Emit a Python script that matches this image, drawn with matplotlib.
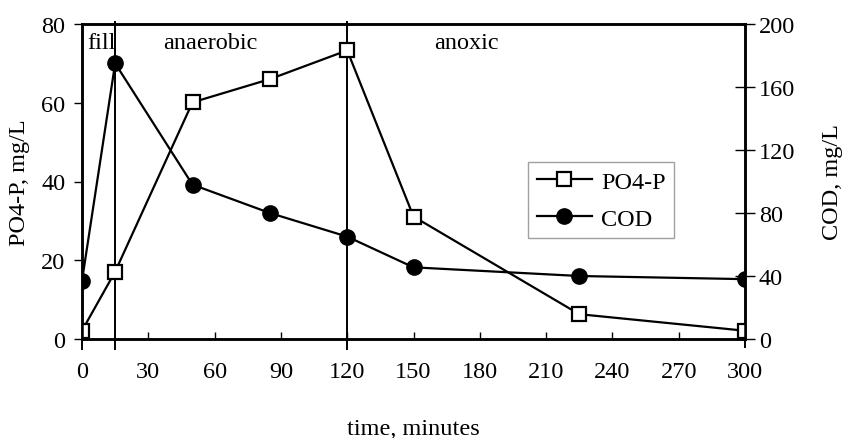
import matplotlib
matplotlib.use("Agg")
import matplotlib.pyplot as plt

time_min = [0, 15, 50, 85, 120, 150, 225, 300]
po4_p = [2.1, 17.1, 60.1, 66.0, 73.3, 31.1, 6.3, 2.1]
cod = [37, 175, 98, 80, 65, 45.5, 40, 38]
phase_lines = [15, 120]
phase_labels = ["fill", "anaerobic", "anoxic"]
phase_label_x = [2.5, 58, 174]
x_ticks = list(range(0, 301, 30))
left_ticks = [0, 20, 40, 60, 80]
right_ticks = [0, 40, 80, 120, 160, 200]

FS = 17.5
plt.rcParams['font.family'] = ['Liberation Serif', 'DejaVu Serif']
plt.rcParams['font.size'] = FS

fig = plt.figure(figsize=(8.46, 4.39), dpi=100)
ax = fig.add_axes([82/846, 1-340/439, (745-82)/846, (340-25)/439])
ax2 = ax.twinx()

ax.set_xlim(0, 300)
ax.set_ylim(0, 80)
ax2.set_ylim(0, 200)

l1, = ax.plot(time_min, po4_p, color='black', lw=1.6, marker='s', ms=10,
              mfc='white', mec='black', mew=1.6, label='PO4-P', zorder=3)
l2, = ax2.plot(time_min, cod, color='black', lw=1.6, marker='o', ms=11,
               mfc='black', mec='black', label='COD', zorder=3)

for xv in phase_lines:
    ax.axvline(xv, ymin=-0.033, ymax=1.007, color='black', lw=1.4, clip_on=False, zorder=2)
ax.axvline(0, ymin=-0.033, ymax=0, color='black', lw=1.4, clip_on=False)
ax.axvline(300, ymin=-0.025, ymax=0, color='black', lw=1.4, clip_on=False)

for lab, xl in zip(phase_labels, phase_label_x):
    ha = 'left' if lab == 'fill' else 'center'
    ax.text(xl, 75.4, lab, ha=ha, va='center', fontsize=FS)

ax.set_xticks(x_ticks)
ax.set_yticks(left_ticks)
ax2.set_yticks(right_ticks)
ax.tick_params(axis='x', direction='in', length=5, width=1, pad=16)
ax.tick_params(axis='y', direction='out', length=6, width=1, pad=6)
ax2.tick_params(axis='y', direction='inout', length=14, width=1, pad=3)

for a in (ax, ax2):
    for s in a.spines.values():
        s.set_linewidth(1.8)

ax.set_ylabel('PO4-P, mg/L', fontsize=FS, labelpad=8)
ax2.set_ylabel('COD, mg/L', fontsize=FS, labelpad=19)
ax.set_xlabel('time, minutes', fontsize=FS, labelpad=26)

leg = ax.legend([l1, l2], ['PO4-P', 'COD'], loc='upper left',
                bbox_to_anchor=((528-82)/663, 1-(163-25)/315),
                borderaxespad=0,
                frameon=True, fancybox=False, edgecolor='#888888',
                handlelength=2.3, handletextpad=0.35, borderpad=0.35,
                labelspacing=0.62, fontsize=FS)
leg.get_frame().set_linewidth(1.0)
leg.set_zorder(5)

fig.savefig('out.png', dpi=100)
